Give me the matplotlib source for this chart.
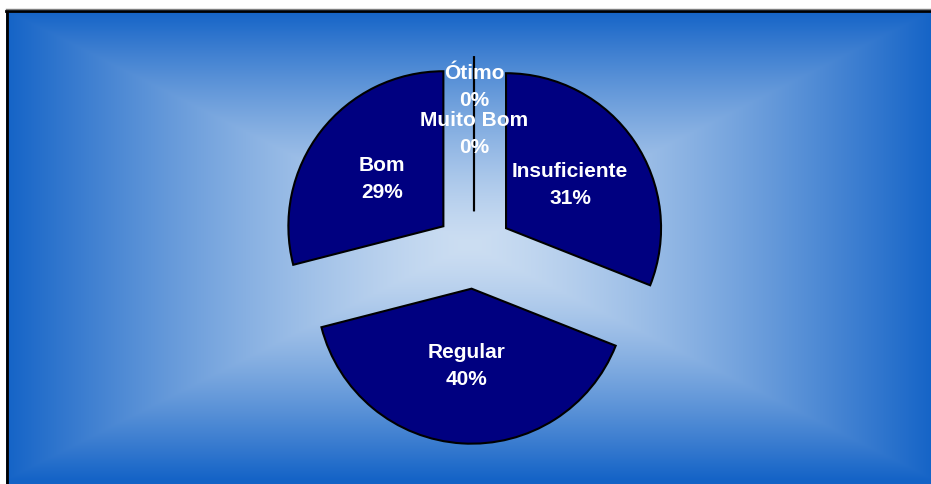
import matplotlib.pyplot as plt
import numpy as np

categorias = ['Insuficiente', 'Regular', 'Bom', 'Muito Bom', 'Ótimo']
valores = [31, 40, 29, 0, 0]
dist_rotulo = [0.5, 0.5, 0.5, 0.5, 0.8]

W, H = 931, 484
fig = plt.figure(figsize=(W / 100, H / 100), dpi=100)

# fundo com gradiente retangular a partir do centro
bg = fig.add_axes([0, 0, 1, 1])
bg.set_xlim(0, W)
bg.set_ylim(H, 0)
bg.axis('off')
xs = np.linspace(6, W, 600)
ys = np.linspace(10, H, 320)
gx, gy = np.meshgrid(xs, ys)
t = np.maximum(np.abs(gx - 470) / 464, np.abs(gy - 245) / 235)
t = np.clip(t, 0, 1) ** 1.35
c_centro = np.array([0.80, 0.87, 0.95])
c_borda = np.array([0.08, 0.39, 0.78])
img = c_centro[None, None, :] * (1 - t[..., None]) + c_borda[None, None, :] * t[..., None]
bg.imshow(img, extent=(6, W, H, 10), aspect='auto', interpolation='bilinear')
bg.plot([6.5, 6.5], [10, H], color='black', lw=2)
bg.plot([6, W], [10.5, 10.5], color='black', lw=2)
bg.plot([6, W], [8.8, 8.8], color='#808080', lw=1)

# pizza
ax = fig.add_axes([0, 0, 1, 1])
ax.patch.set_alpha(0)
wedges, _ = ax.pie(valores, startangle=90, counterclock=False,
                   explode=[0.25] * len(valores), colors=['#000080'] * len(valores),
                   wedgeprops=dict(edgecolor='black', linewidth=1.5))
r_px = 155
cx, cy = 474, 250
ax.set_aspect('auto')
ax.set_xlim(-cx / r_px, (W - cx) / r_px)
ax.set_ylim(-(H - cy) / r_px, cy / r_px)
ax.axis('off')

total = sum(valores)
for w, nome, v, d in zip(wedges, categorias, valores, dist_rotulo):
    ang = np.deg2rad((w.theta1 + w.theta2) / 2)
    x = w.center[0] + d * np.cos(ang)
    y = w.center[1] + d * np.sin(ang)
    ax.text(x, y, '%s\n%.0f%%' % (nome, v / total * 100), ha='center', va='center',
            color='white', fontsize=15, fontweight='bold', family='Liberation Sans',
            linespacing=1.55)

plt.savefig('out.png', dpi=100)
